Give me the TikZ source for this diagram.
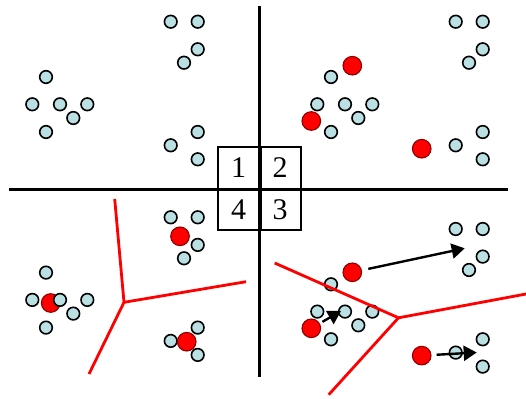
\documentclass[tikz,border=0pt]{standalone}
\usepackage{fontspec}
\setmainfont{Liberation Serif}
\usetikzlibrary{arrows.meta}
\definecolor{dotblue}{RGB}{187,224,227}
\definecolor{dotred}{RGB}{255,0,0}
\definecolor{dotredline}{RGB}{140,0,0}
\newcommand\dotcluster[1]{%
  \node[bdot] (#1a1) at (170.7,21.7) {};
  \node[bdot] (#1a2) at (197.7,21.7) {};
  \node[bdot] (#1a3) at (197.7,49.3) {};
  \node[bdot] (#1a4) at (184,62.7) {};
  \node[bdot] (#1b1) at (46,77) {};
  \node[bdot] (#1b2) at (32.3,104.3) {};
  \node[bdot] (#1b3) at (60,104.3) {};
  \node[bdot] (#1b4) at (87.3,104.3) {};
  \node[bdot] (#1b5) at (73.3,118) {};
  \node[bdot] (#1b6) at (46,132) {};
  \node[bdot] (#1c1) at (197.7,132) {};
  \node[bdot] (#1c2) at (170.7,145.3) {};
  \node[bdot] (#1c3) at (197.7,159.3) {};
}
\begin{document}
\begin{tikzpicture}[x=1pt,y=-1pt,
  bdot/.style={circle,draw=black,fill=dotblue,line width=1.6pt,minimum size=12.6pt,inner sep=0pt},
  rdot/.style={circle,draw=dotredline,fill=dotred,line width=1.1pt,minimum size=18.6pt,inner sep=0pt},
  axis/.style={line width=3pt,black},
  border/.style={line width=2.8pt,red},
  mv/.style={line width=2.4pt,-{Triangle[length=13pt,width=15pt]}},
  cell/.style={draw=black,line width=2pt,minimum width=41.5pt,minimum height=41.5pt,inner sep=0pt,font=\fontsize{30}{30}\selectfont}]
\useasboundingbox (0,0) rectangle (526,398);
% axes
\coordinate (vt) at (259,6);
\coordinate (vb) at (259,376.5);
\coordinate (hl) at (9,189);
\coordinate (hr) at (508,189);
\draw[axis] (vt) -- (vb);
\draw[axis] (hl) -- (hr);
% quadrant 1
\begin{scope}
  \dotcluster{p}
\end{scope}
% quadrant 2
\begin{scope}[shift={(285,0)}]
  \dotcluster{q}
  \node[rdot] (qr1) at (67.3,65.7) {};
  \node[rdot] (qr2) at (26.3,121) {};
  \node[rdot] (qr3) at (136.7,148.7) {};
\end{scope}
% quadrant 4
\begin{scope}[shift={(0,195.6)}]
  \node[rdot] (sr2) at (50.7,107.4) {};
  \dotcluster{s}
  \node[rdot] (sr1) at (180,40.7) {};
  \node[rdot] (sr3) at (186.7,146.1) {};
\end{scope}
% quadrant 3
\begin{scope}[shift={(285,207.3)}]
  \dotcluster{t}
  \node[rdot] (tr1) at (67.3,65) {};
  \node[rdot] (tr2) at (26.3,121) {};
  \node[rdot] (tr3) at (136.7,148.3) {};
\end{scope}
% cell boxes
\node[cell] (c1) at (238.5,167.8) {1};
\node[cell] (c2) at (280,167.8) {2};
\node[cell] (c4) at (238.5,209.3) {4};
\node[cell] (c3) at (280,209.3) {3};
\draw[axis] (c1.north east) -- (c4.south east);
% region borders
\coordinate (wj) at (124,302.3);
\coordinate (wt) at (114.7,199);
\coordinate (wr) at (246,281.7);
\coordinate (wb) at (89,374);
\draw[border] (wt) -- (wj) -- (wr);
\draw[border] (wj) -- (wb);
\coordinate (ej) at (398.5,317.8);
\coordinate (el) at (274.7,263);
\coordinate (er) at (526,294);
\coordinate (eb) at (328.7,394.7);
\draw[border] (el) -- (ej) -- (er);
\draw[border] (ej) -- (eb);
% moves
\coordinate (m1) at (464.7,248.3);
\coordinate (m2) at (341,311);
\coordinate (m3) at (476.7,352.5);
\draw[mv,shorten <=6.5pt] (tr1) -- (m1);
\draw[mv,shorten <=3pt] (tr2) -- (m2);
\draw[mv,shorten <=5pt] (tr3) -- (m3);
\end{tikzpicture}
\end{document}
